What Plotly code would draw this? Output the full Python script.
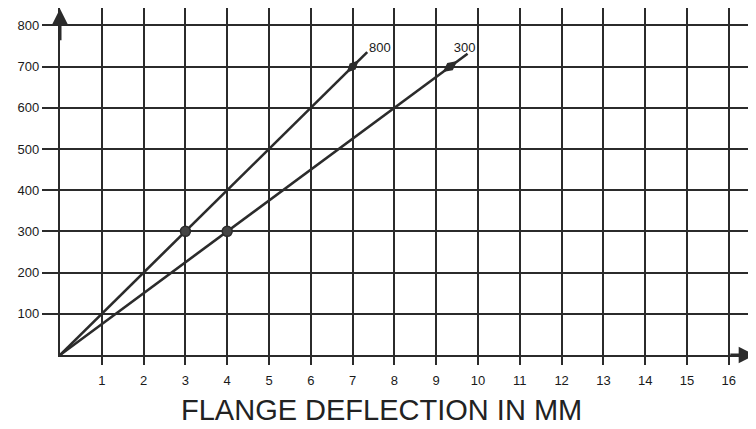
import plotly.graph_objects as go

# Data
x_ticks = list(range(1, 17))
y_ticks = [100, 200, 300, 400, 500, 600, 700, 800]

line_800_x = [0, 3, 7, 7.35]
line_800_y = [0, 300, 700, 735]
line_300_x = [0, 4, 9.33, 9.75]
line_300_y = [0, 300, 700, 731]

circle_x = [3, 4]
circle_y = [300, 300]

labels = ["800", "300"]
label_x = [7.65, 9.68]
label_y = [742, 742]

INK = "#2b2b2b"

fig = go.Figure()

fig.add_trace(go.Scatter(x=line_800_x, y=line_800_y, mode="lines",
                         line=dict(color=INK, width=2.6), showlegend=False))
fig.add_trace(go.Scatter(x=line_300_x, y=line_300_y, mode="lines",
                         line=dict(color=INK, width=2.6), showlegend=False))
# arrow markers on lines
fig.add_trace(go.Scatter(x=[line_800_x[2]], y=[line_800_y[2]], mode="markers",
                         marker=dict(symbol="diamond-tall", size=12, color=INK,
                                     angle=44),
                         showlegend=False))
fig.add_trace(go.Scatter(x=[line_300_x[2]], y=[line_300_y[2]], mode="markers",
                         marker=dict(symbol="diamond-tall", size=13, color=INK,
                                     angle=53),
                         showlegend=False))
fig.add_trace(go.Scatter(x=circle_x, y=circle_y, mode="markers",
                         marker=dict(symbol="circle", size=10, color="#444",
                                     line=dict(color=INK, width=1.5)),
                         showlegend=False))
fig.add_trace(go.Scatter(x=label_x, y=label_y, mode="text", text=labels,
                         textfont=dict(family="Liberation Sans", size=13, color="#1a1a1a"),
                         showlegend=False))

# axis arrows
fig.add_annotation(x=0, y=840, ax=0, ay=760, xref="x", yref="y", axref="x", ayref="y",
                   showarrow=True, arrowhead=2, arrowsize=1.1, arrowwidth=3,
                   arrowcolor=INK, text="")
fig.add_annotation(x=16.63, y=0, ax=16.0, ay=0, xref="x", yref="y", axref="x", ayref="y",
                   showarrow=True, arrowhead=2, arrowsize=1.1, arrowwidth=3,
                   arrowcolor=INK, text="")

fig.add_annotation(x=7.68, y=-0.158, xref="x", yref="paper",
                   text="FLANGE DEFLECTION IN MM", showarrow=False,
                   font=dict(family="Liberation Sans", size=29, color="#222"),
                   xanchor="center", yanchor="middle")

fig.update_xaxes(range=[0, 16.65], tickvals=x_ticks, ticktext=[str(v) for v in x_ticks],
                 showgrid=True, gridcolor=INK, gridwidth=1.8,
                 showline=True, linecolor=INK, linewidth=2.2,
                 ticks="outside", ticklen=8, tickwidth=1.8, tickcolor=INK,
                 ticklabelstandoff=4,
                 tickfont=dict(family="Liberation Sans", size=13, color="#1a1a1a"),
                 zeroline=False, fixedrange=True, automargin=False)
fig.update_yaxes(range=[0, 842], tickvals=y_ticks, ticktext=[str(v) for v in y_ticks],
                 showgrid=True, gridcolor=INK, gridwidth=1.8,
                 showline=True, linecolor=INK, linewidth=2.2,
                 ticks="outside", ticklen=16, tickwidth=1.8, tickcolor=INK,
                 tickfont=dict(family="Liberation Sans", size=13, color="#1a1a1a"),
                 zeroline=False, fixedrange=True, automargin=False)

# page body has an 8px margin, so the figure is shifted by 8px
fig.update_layout(width=748, height=421,
                  margin=dict(l=52, r=0, t=0, b=74, autoexpand=False),
                  paper_bgcolor="white", plot_bgcolor="white",
                  showlegend=False)

fig.write_html("out.html")
